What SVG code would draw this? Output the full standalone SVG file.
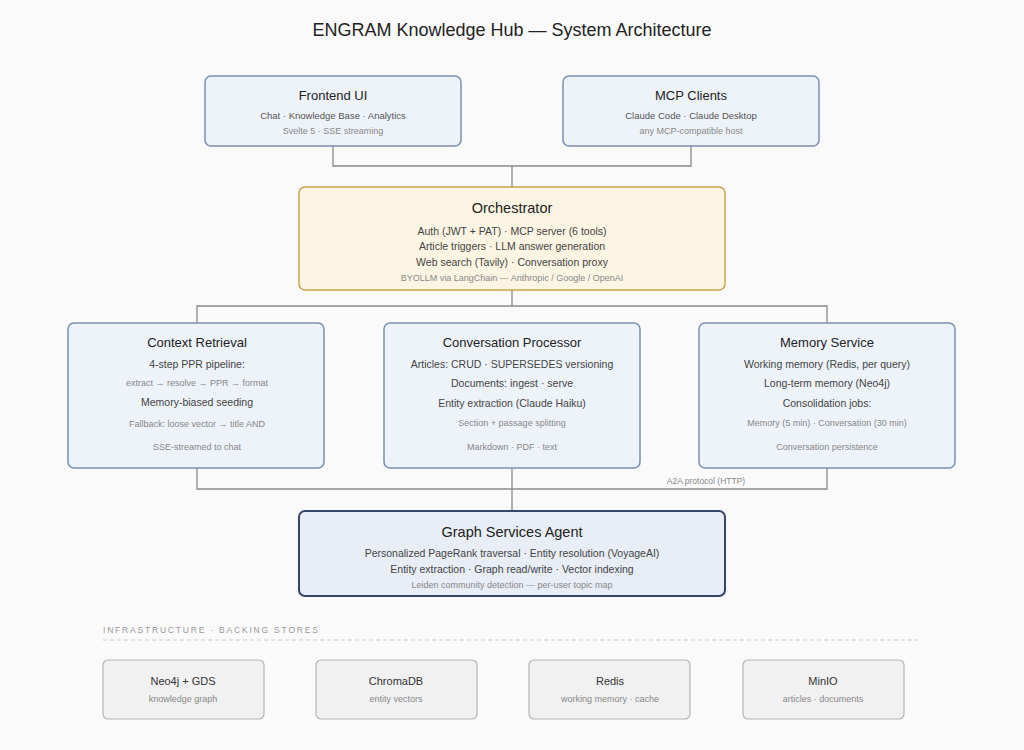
<svg xmlns="http://www.w3.org/2000/svg" width="1024" height="750" viewBox="0 0 1024 750">
<style>
text{font-family:"Liberation Sans",Arial,sans-serif;text-anchor:middle}
.box{fill:#eef2f9;stroke:#7c8fb0;stroke-width:1.5}
.orch{fill:#fcf5e3;stroke:#c9a24f;stroke-width:1.5}
.gsa{fill:#e8edf6;stroke:#34476a;stroke-width:2}
.inf{fill:#f1f1f1;stroke:#b5b5b5;stroke-width:1.2}
.t{font-size:13px;fill:#222}
.tl{font-size:14.5px;fill:#222}
.b{font-size:10.5px;fill:#444}
.s{font-size:9.5px;fill:#555}
.m{font-size:9px;fill:#888}
.c{fill:none;stroke:#8a8a8a;stroke-width:1.3}
</style>
<rect width="1024" height="750" fill="#fafafa"/>
<text x="512" y="36" style="font-size:18px;fill:#222">ENGRAM Knowledge Hub — System Architecture</text>
<g id="connectors">
<path class="c" d="M333 146V166H691V146M512 166V187M512 290V306M197 323V306H827V323M197 468V489H827V468M512 468V511"/>
<text x="706" y="484" class="m" style="font-size:8.5px">A2A protocol (HTTP)</text>
</g>
<g id="frontend"><rect class="box" x="205" y="76" width="256" height="70" rx="6"/>
<text x="333" y="100" class="t">Frontend UI</text><text x="333" y="119" class="s">Chat · Knowledge Base · Analytics</text><text x="333" y="134" class="m">Svelte 5 · SSE streaming</text></g>
<g id="mcp"><rect class="box" x="563" y="76" width="256" height="70" rx="6"/>
<text x="691" y="100" class="t">MCP Clients</text><text x="691" y="119" class="s">Claude Code · Claude Desktop</text><text x="691" y="134" class="m">any MCP-compatible host</text></g>
<g id="orchestrator"><rect class="orch" x="299" y="187" width="426" height="103" rx="6"/>
<text x="512" y="213" class="tl">Orchestrator</text>
<text x="512" y="235" class="b">Auth (JWT + PAT) · MCP server (6 tools)</text>
<text x="512" y="250" class="b">Article triggers · LLM answer generation</text>
<text x="512" y="266" class="b">Web search (Tavily) · Conversation proxy</text>
<text x="512" y="281" class="m">BYOLLM via LangChain — Anthropic / Google / OpenAI</text></g>
<g id="context"><rect class="box" x="68" y="323" width="256" height="145" rx="6"/>
<text x="197" y="347" class="t">Context Retrieval</text>
<text x="197" y="368" class="b">4-step PPR pipeline:</text>
<text x="197" y="386" class="m">extract → resolve → PPR → format</text>
<text x="197" y="406" class="b">Memory-biased seeding</text>
<text x="197" y="427" class="m">Fallback: loose vector → title AND</text>
<text x="197" y="450" class="m">SSE-streamed to chat</text></g>
<g id="conversation"><rect class="box" x="384" y="323" width="256" height="145" rx="6"/>
<text x="512" y="347" class="t">Conversation Processor</text>
<text x="512" y="368" class="b">Articles: CRUD · SUPERSEDES versioning</text>
<text x="512" y="387" class="b">Documents: ingest · serve</text>
<text x="512" y="407" class="b">Entity extraction (Claude Haiku)</text>
<text x="512" y="426" class="m">Section + passage splitting</text>
<text x="512" y="450" class="m">Markdown · PDF · text</text></g>
<g id="memory"><rect class="box" x="699" y="323" width="256" height="145" rx="6"/>
<text x="827" y="347" class="t">Memory Service</text>
<text x="827" y="368" class="b">Working memory (Redis, per query)</text>
<text x="827" y="387" class="b">Long-term memory (Neo4j)</text>
<text x="827" y="407" class="b">Consolidation jobs:</text>
<text x="827" y="426" class="m">Memory (5 min) · Conversation (30 min)</text>
<text x="827" y="450" class="m">Conversation persistence</text></g>
<g id="graph"><rect class="gsa" x="299" y="511" width="426" height="85" rx="6"/>
<text x="512" y="537" class="tl">Graph Services Agent</text>
<text x="512" y="557" class="b">Personalized PageRank traversal · Entity resolution (VoyageAI)</text>
<text x="512" y="573" class="b">Entity extraction · Graph read/write · Vector indexing</text>
<text x="512" y="588" class="m">Leiden community detection — per-user topic map</text></g>
<text x="103" y="633" style="font-size:8.5px;fill:#999;text-anchor:start;letter-spacing:1.8px">INFRASTRUCTURE · BACKING STORES</text>
<line x1="103" y1="640" x2="918" y2="640" stroke="#ccc" stroke-dasharray="4 3"/>
<g id="neo4j"><rect class="inf" x="103" y="660" width="161" height="59" rx="5"/><text x="183" y="685" class="b" style="fill:#333;font-size:11px">Neo4j + GDS</text><text x="183" y="702" class="m">knowledge graph</text></g>
<g id="chroma"><rect class="inf" x="316" y="660" width="161" height="59" rx="5"/><text x="396" y="685" class="b" style="fill:#333;font-size:11px">ChromaDB</text><text x="396" y="702" class="m">entity vectors</text></g>
<g id="redis"><rect class="inf" x="529" y="660" width="161" height="59" rx="5"/><text x="610" y="685" class="b" style="fill:#333;font-size:11px">Redis</text><text x="610" y="702" class="m">working memory · cache</text></g>
<g id="minio"><rect class="inf" x="743" y="660" width="161" height="59" rx="5"/><text x="823" y="685" class="b" style="fill:#333;font-size:11px">MinIO</text><text x="823" y="702" class="m">articles · documents</text></g>
</svg>
